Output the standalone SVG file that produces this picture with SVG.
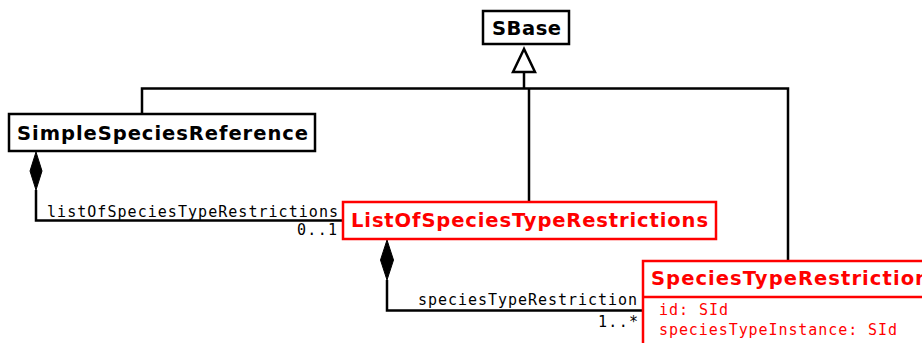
<svg xmlns="http://www.w3.org/2000/svg" width="922" height="343" viewBox="0 0 922 343">
<style>
.box{fill:#fff;stroke:#000;stroke-width:2.5}
.rbox{fill:#fff;stroke:#ff0000;stroke-width:2.5}
.title{font-family:"DejaVu Sans","Liberation Sans",sans-serif;font-weight:bold;font-size:19.5px;fill:#000}
.rtitle{font-family:"DejaVu Sans","Liberation Sans",sans-serif;font-weight:bold;font-size:19.5px;fill:#ff0000}
.mono{font-family:"DejaVu Sans Mono","Liberation Mono",monospace;font-size:15px;fill:#000}
.rmono{font-family:"DejaVu Sans Mono","Liberation Mono",monospace;font-size:15px;fill:#ff0000}
.line{fill:none;stroke:#000;stroke-width:2.5}
.diamond{fill:#000;stroke:#000;stroke-width:1}
.tri{fill:#fff;stroke:#000;stroke-width:2.5}
</style>
<g id="connectors">
<polyline class="line" points="142,114 142,88.5 788,88.5 788,261"/>
<line class="line" x1="524" y1="72" x2="524" y2="88.5"/>
<line class="line" x1="529" y1="88.5" x2="529" y2="202"/>
<polygon class="tri" points="524,49 513,72 535,72"/>
<polyline class="line" points="36,190 36,220.5 343,220.5"/>
<polygon class="diamond" points="36,152 42,171 36,190 30,171"/>
<polyline class="line" points="387,280 387,310.5 643,310.5"/>
<polygon class="diamond" points="387,240 393.5,260 387,280 380.5,260"/>
<text class="mono" x="47" y="217" textLength="291" lengthAdjust="spacing">listOfSpeciesTypeRestrictions</text>
<text class="mono" x="297" y="235" textLength="40" lengthAdjust="spacing">0..1</text>
<text class="mono" x="418" y="305" textLength="219" lengthAdjust="spacing">speciesTypeRestriction</text>
<text class="mono" x="598" y="327" textLength="40" lengthAdjust="spacing">1..*</text>
</g>
<g id="SBase">
<rect class="box" x="483" y="11" width="86" height="33"/>
<text class="title" x="492" y="35" textLength="69" lengthAdjust="spacing">SBase</text>
</g>
<g id="SimpleSpeciesReference">
<rect class="box" x="9" y="114" width="306" height="37"/>
<text class="title" x="17" y="140" textLength="291" lengthAdjust="spacing">SimpleSpeciesReference</text>
</g>
<g id="ListOfSpeciesTypeRestrictions">
<rect class="rbox" x="343" y="202" width="373" height="37"/>
<text class="rtitle" x="351" y="227" textLength="357" lengthAdjust="spacing">ListOfSpeciesTypeRestrictions</text>
</g>
<g id="SpeciesTypeRestriction">
<rect class="rbox" x="643" y="261" width="300" height="100"/>
<line x1="643" y1="297" x2="943" y2="297" stroke="#ff0000" stroke-width="2.5"/>
<text class="rtitle" x="651" y="285" textLength="278" lengthAdjust="spacing">SpeciesTypeRestriction</text>
<text class="rmono" x="659" y="315" textLength="69" lengthAdjust="spacing">id: SId</text>
<text class="rmono" x="659" y="335" textLength="238" lengthAdjust="spacing">speciesTypeInstance: SId</text>
</g>
</svg>
